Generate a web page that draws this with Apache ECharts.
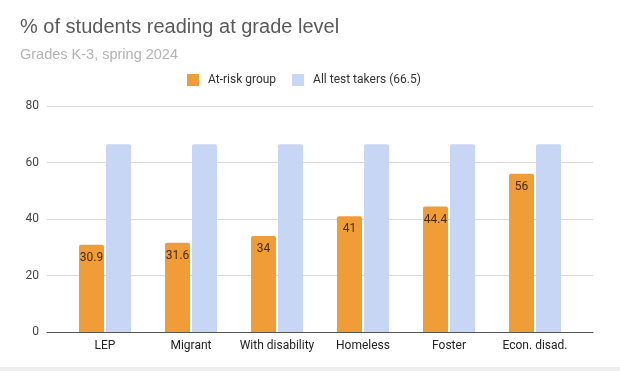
<!DOCTYPE html>
<html>
<head>
<meta charset="utf-8">
<script src="https://cdn.jsdelivr.net/npm/echarts@6/dist/echarts.min.js"></script>
<style>
html,body{margin:0;padding:0;background:#fff;}
#c{width:620px;height:371px;position:relative;}
#strip{position:absolute;left:0;top:367px;width:620px;height:4px;background:#eeeeee;}
</style>
</head>
<body>
<div id="c"></div>
<div id="strip"></div>
<script>
const categories = ["LEP", "Migrant", "With disability", "Homeless", "Foster", "Econ. disad."];
const atRisk = [30.9, 31.6, 34, 41, 44.4, 56];
const allTakers = [66.5, 66.5, 66.5, 66.5, 66.5, 66.5];
const seriesNames = ["At-risk group", "All test takers (66.5)"];
const yTicks = { min: 0, max: 80, interval: 20 };
const titleText = "% of students reading at grade level";
const subtitleText = "Grades K-3, spring 2024";

const chart = echarts.init(document.getElementById('c'), null, {renderer: 'canvas'});
const font = 'Roboto, Arial, sans-serif';
const tfont = '"Liberation Sans", Arial, sans-serif';
chart.setOption({
  animation: false,
  backgroundColor: '#fff',
  title: {
    text: titleText,
    subtext: subtitleText,
    left: 15,
    top: 12,
    itemGap: 11,
    textStyle: {fontFamily: tfont, fontSize: 20, lineHeight: 20, fontWeight: 'normal', color: '#5a5a5a'},
    subtextStyle: {fontFamily: tfont, fontSize: 14.5, lineHeight: 14, color: '#b3b3b3'}
  },
  legend: {
    left: 182,
    top: 69,
    itemWidth: 12,
    itemHeight: 12,
    itemGap: 16,
    icon: 'rect',
    textStyle: {fontFamily: font, fontSize: 12, color: '#333', padding: [0, 0, 0, 4]},
    data: seriesNames
  },
  grid: [
    {left: 47, right: 27, top: 106, bottom: 39},
    {left: 62, right: 42, top: 106, bottom: 39}
  ],
  xAxis: [
    {gridIndex: 0, type: 'category', data: categories,
     axisLine: {show: true, lineStyle: {color: '#555', width: 1}},
     axisTick: {show: false}, axisLabel: {show: false}, splitLine: {show: false}},
    {gridIndex: 1, type: 'category', data: categories,
     axisLine: {show: false}, axisTick: {show: false},
     axisLabel: {fontFamily: font, fontSize: 12, color: '#222', margin: 8, interval: 0}}
  ],
  yAxis: [
    {gridIndex: 0, type: 'value', min: yTicks.min, max: yTicks.max, interval: yTicks.interval,
     axisLine: {show: false}, axisTick: {show: false},
     axisLabel: {fontFamily: font, fontSize: 12, color: '#444', margin: 8},
     splitLine: {lineStyle: {color: '#dadada', width: 1}}},
    {gridIndex: 1, type: 'value', min: yTicks.min, max: yTicks.max, interval: yTicks.interval, show: false}
  ],
  series: [
    {name: seriesNames[0], type: 'bar', xAxisIndex: 1, yAxisIndex: 1, data: atRisk,
     barWidth: 25, barGap: '8%',
     itemStyle: {color: '#f09d38', borderRadius: [2, 2, 0, 0]},
     label: {show: true, position: 'insideTop', distance: 7, fontFamily: font, fontSize: 12, color: '#4a2a05'}},
    {name: seriesNames[1], type: 'bar', xAxisIndex: 1, yAxisIndex: 1, data: allTakers,
     barWidth: 25, barGap: '8%',
     itemStyle: {color: '#c7d6f4', borderRadius: [2, 2, 0, 0]}}
  ]
});
</script>
</body>
</html>
